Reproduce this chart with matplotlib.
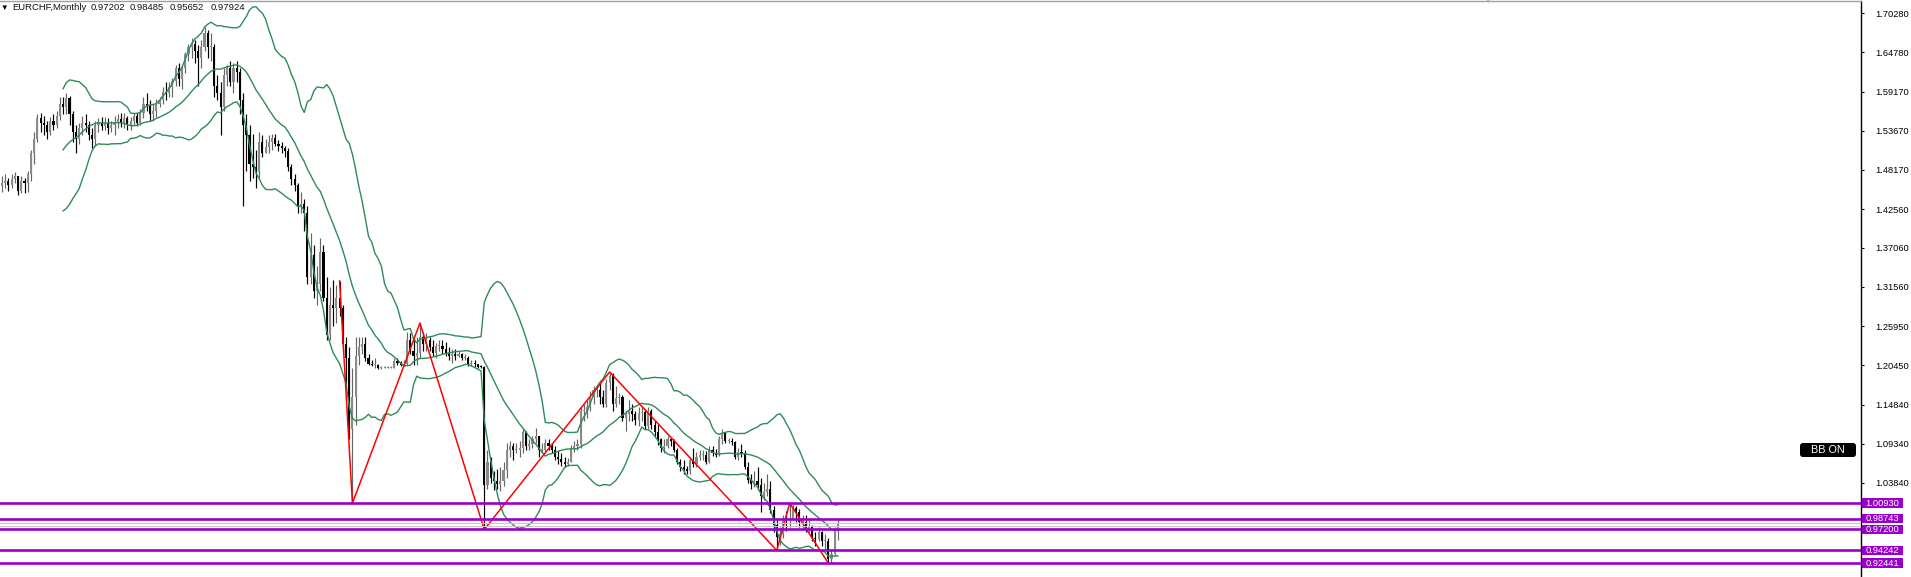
import numpy as np
import pandas as pd
import matplotlib
matplotlib.use('Agg')
import matplotlib.pyplot as plt
from matplotlib.patches import Rectangle, FancyBboxPatch

plt.rcParams['font.family'] = ['Liberation Sans', 'DejaVu Sans']

# EURCHF monthly candles, Jul 2002 .. last bar
first_open = 1.458
closes = [
    1.462, 1.466, 1.460, 1.468, 1.472, 1.452, 1.465, 1.462, 1.475, 1.505,
    1.525, 1.555, 1.548, 1.545, 1.535, 1.550, 1.545, 1.558, 1.575, 1.570,
    1.583, 1.560, 1.535, 1.525, 1.540, 1.548, 1.545, 1.530, 1.525, 1.545,
    1.548, 1.543, 1.548, 1.540, 1.545, 1.548, 1.553, 1.548, 1.555, 1.545,
    1.550, 1.557, 1.548, 1.562, 1.575, 1.572, 1.560, 1.565, 1.575, 1.580,
    1.592, 1.590, 1.598, 1.607, 1.625, 1.610, 1.625, 1.645, 1.655, 1.660,
    1.650, 1.640, 1.655, 1.675, 1.655, 1.655, 1.600, 1.590, 1.570, 1.615,
    1.625, 1.605, 1.625, 1.620, 1.580, 1.545, 1.530, 1.490, 1.486, 1.478,
    1.520, 1.505, 1.513, 1.520, 1.527, 1.518, 1.515, 1.512, 1.508, 1.485,
    1.468, 1.460, 1.428, 1.433, 1.420, 1.330, 1.360, 1.310, 1.320, 1.365,
    1.300, 1.248, 1.290, 1.285, 1.300, 1.285, 1.235, 1.215, 1.115, 1.160,
    1.217, 1.230, 1.235, 1.215, 1.207, 1.205, 1.205, 1.201, 1.201, 1.201,
    1.201, 1.201, 1.210, 1.208, 1.205, 1.207, 1.240, 1.225, 1.217, 1.222,
    1.245, 1.235, 1.240, 1.230, 1.222, 1.232, 1.232, 1.228, 1.222, 1.217,
    1.220, 1.218, 1.220, 1.215, 1.215, 1.206, 1.207, 1.206, 1.2025, 1.2024,
    1.035, 1.068, 1.045, 1.040, 1.036, 1.040, 1.056, 1.085, 1.090, 1.085,
    1.085, 1.088, 1.110, 1.090, 1.093, 1.100, 1.105, 1.085, 1.085, 1.095,
    1.090, 1.085, 1.075, 1.072, 1.068, 1.065, 1.068, 1.088, 1.090, 1.093,
    1.140, 1.140, 1.145, 1.160, 1.170, 1.170, 1.160, 1.150, 1.180, 1.190,
    1.150, 1.158, 1.160, 1.130, 1.135, 1.140, 1.135, 1.127, 1.137, 1.138,
    1.118, 1.140, 1.120, 1.110, 1.100, 1.088, 1.090, 1.100, 1.097, 1.085,
    1.068, 1.060, 1.058, 1.055, 1.070, 1.065, 1.075, 1.078, 1.078, 1.068,
    1.085, 1.080, 1.078, 1.100, 1.108, 1.097, 1.098, 1.096, 1.075, 1.082,
    1.080, 1.060, 1.042, 1.036, 1.040, 1.035, 1.020, 1.025, 1.030, 1.000,
    0.978, 0.962, 0.965, 0.987, 0.985, 0.987, 1.003, 0.997, 0.983, 0.983,
    0.972, 0.977, 0.960, 0.958, 0.968, 0.955, 0.955, 0.930, 0.937, 0.972,
    0.97924,
]
highs = [
    1.472, 1.475, 1.470, 1.475, 1.478, 1.473, 1.472, 1.470, 1.480, 1.510,
    1.535, 1.560, 1.562, 1.558, 1.550, 1.556, 1.560, 1.565, 1.585, 1.584,
    1.590, 1.586, 1.565, 1.545, 1.548, 1.558, 1.560, 1.550, 1.540, 1.550,
    1.555, 1.556, 1.556, 1.555, 1.550, 1.557, 1.560, 1.562, 1.562, 1.558,
    1.556, 1.562, 1.562, 1.568, 1.585, 1.590, 1.580, 1.575, 1.582, 1.585,
    1.598, 1.605, 1.605, 1.612, 1.630, 1.632, 1.630, 1.648, 1.660, 1.668,
    1.665, 1.658, 1.665, 1.683, 1.680, 1.675, 1.660, 1.615, 1.605, 1.625,
    1.630, 1.635, 1.633, 1.635, 1.625, 1.590, 1.560, 1.545, 1.532, 1.510,
    1.535, 1.530, 1.525, 1.530, 1.532, 1.532, 1.523, 1.520, 1.515, 1.512,
    1.490, 1.475, 1.462, 1.450, 1.440, 1.430, 1.392, 1.375, 1.345, 1.385,
    1.375, 1.330, 1.315, 1.325, 1.318, 1.324, 1.290, 1.245, 1.230, 1.200,
    1.245, 1.245, 1.245, 1.245, 1.220, 1.212, 1.215, 1.207, 1.203, 1.203,
    1.203, 1.203, 1.215, 1.215, 1.210, 1.212, 1.252, 1.250, 1.242, 1.245,
    1.2644, 1.252, 1.250, 1.245, 1.240, 1.236, 1.240, 1.240, 1.238, 1.230,
    1.227, 1.227, 1.225, 1.222, 1.220, 1.218, 1.212, 1.212, 1.207, 1.205,
    1.203, 1.085, 1.075, 1.055, 1.058, 1.060, 1.068, 1.095, 1.098, 1.095,
    1.095, 1.098, 1.115, 1.112, 1.100, 1.105, 1.116, 1.105, 1.095, 1.100,
    1.100, 1.095, 1.090, 1.085, 1.080, 1.075, 1.073, 1.092, 1.098, 1.100,
    1.145, 1.150, 1.155, 1.168, 1.175, 1.175, 1.180, 1.170, 1.185, 1.195,
    1.194, 1.175, 1.165, 1.162, 1.140, 1.155, 1.150, 1.140, 1.145, 1.145,
    1.142, 1.145, 1.143, 1.125, 1.122, 1.102, 1.100, 1.105, 1.102, 1.100,
    1.088, 1.072, 1.070, 1.062, 1.075, 1.088, 1.082, 1.085, 1.085, 1.083,
    1.090, 1.090, 1.086, 1.105, 1.115, 1.110, 1.102, 1.102, 1.097, 1.088,
    1.093, 1.085, 1.068, 1.050, 1.055, 1.060, 1.045, 1.038, 1.050, 1.040,
    1.005, 0.985, 0.975, 0.992, 0.998, 1.0093, 1.008, 1.005, 1.001, 0.993,
    0.992, 0.985, 0.978, 0.968, 0.975, 0.970, 0.965, 0.960, 0.945, 0.976,
    0.98485,
]
lows = [
    1.450, 1.455, 1.452, 1.455, 1.462, 1.445, 1.448, 1.448, 1.450, 1.465,
    1.490, 1.520, 1.535, 1.530, 1.525, 1.530, 1.538, 1.540, 1.552, 1.560,
    1.560, 1.545, 1.520, 1.505, 1.518, 1.530, 1.535, 1.523, 1.512, 1.515,
    1.535, 1.538, 1.538, 1.532, 1.535, 1.530, 1.540, 1.542, 1.540, 1.538,
    1.538, 1.545, 1.543, 1.545, 1.555, 1.565, 1.550, 1.550, 1.556, 1.570,
    1.575, 1.580, 1.585, 1.585, 1.600, 1.600, 1.596, 1.618, 1.635, 1.640,
    1.633, 1.600, 1.625, 1.650, 1.640, 1.635, 1.585, 1.580, 1.530, 1.565,
    1.600, 1.600, 1.590, 1.605, 1.560, 1.430, 1.480, 1.465, 1.470, 1.455,
    1.470, 1.500, 1.505, 1.505, 1.510, 1.515, 1.508, 1.505, 1.500, 1.480,
    1.460, 1.452, 1.420, 1.420, 1.395, 1.320, 1.320, 1.300, 1.290, 1.310,
    1.295, 1.240, 1.240, 1.260, 1.265, 1.275, 1.225, 1.175, 1.100, 1.0093,
    1.120, 1.205, 1.220, 1.210, 1.205, 1.204, 1.200, 1.199, 1.199, 1.200,
    1.200, 1.200, 1.200, 1.205, 1.203, 1.203, 1.205, 1.220, 1.205, 1.205,
    1.215, 1.225, 1.225, 1.225, 1.218, 1.215, 1.225, 1.220, 1.218, 1.212,
    1.208, 1.212, 1.216, 1.212, 1.212, 1.204, 1.203, 1.202, 1.2008, 1.2008,
    0.972, 1.030, 1.038, 1.028, 1.030, 1.027, 1.033, 1.045, 1.075, 1.070,
    1.080, 1.074, 1.080, 1.085, 1.085, 1.088, 1.095, 1.075, 1.080, 1.082,
    1.085, 1.080, 1.070, 1.065, 1.062, 1.060, 1.062, 1.068, 1.082, 1.085,
    1.088, 1.125, 1.130, 1.140, 1.150, 1.160, 1.150, 1.145, 1.145, 1.170,
    1.140, 1.145, 1.150, 1.125, 1.112, 1.125, 1.125, 1.120, 1.118, 1.125,
    1.115, 1.115, 1.115, 1.105, 1.092, 1.082, 1.080, 1.087, 1.090, 1.082,
    1.065, 1.055, 1.050, 1.050, 1.050, 1.060, 1.060, 1.070, 1.070, 1.065,
    1.066, 1.076, 1.074, 1.076, 1.093, 1.095, 1.094, 1.092, 1.072, 1.070,
    1.075, 1.058, 1.038, 1.030, 1.032, 1.028, 0.997, 1.014, 1.020, 0.995,
    0.968, 0.9424, 0.950, 0.960, 0.970, 0.975, 0.985, 0.983, 0.975, 0.972,
    0.968, 0.968, 0.955, 0.948, 0.955, 0.948, 0.945, 0.9244, 0.925, 0.935,
    0.95652,
]

# zigzag turning points (bar index, price)
zz_bars = [105, 109, 130, 150, 189, 241, 245, 257]
zz_prices = [1.3240, 1.0093, 1.2644, 0.9720, 1.1950, 0.94242, 1.0093, 0.92441]

# horizontal levels
levels = [1.00930, 0.98743, 0.97200, 0.94242, 0.92441]
bid_ask = [0.98050, 0.97720]

price_ticks = [1.70280, 1.64780, 1.59170, 1.53670, 1.48170, 1.42560, 1.37060,
               1.31560, 1.25950, 1.20450, 1.14840, 1.09340, 1.03840]

symbol = 'EURCHF,Monthly'
ohlc_text = ['0.97202', '0.98485', '0.95652', '0.97924']

W, H = 1911, 577
fig = plt.figure(figsize=(W / 100, H / 100), dpi=100)
ax = fig.add_axes([0, 0, 1861 / W, 576 / H])

c = np.array(closes)
hi = np.array(highs)
lo = np.array(lows)
o = np.r_[first_open, c[:-1]]
o[-1] = float(ohlc_text[0])
idx = np.arange(len(c))

bull = c >= o
body_col = np.where(bull, '#8a8a8a', '#000000')
wick_col = np.where(bull, '#666666', '#000000')
ax.vlines(idx, np.minimum(lo, np.minimum(o, c)), np.maximum(hi, np.maximum(o, c)),
          colors=wick_col, lw=0.85, zorder=2)
body_h = np.maximum(np.abs(c - o), 0.0016)
ax.bar(idx, body_h, bottom=np.minimum(o, c), width=0.66, color=body_col,
       linewidth=0, zorder=3)

# Bollinger bands 20, 2
s = pd.Series(c)
mid = s.rolling(20).mean()
sd = s.rolling(20).std(ddof=0)
green = '#2e8b57'
for band in (mid, mid + 2 * sd, mid - 2 * sd):
    ax.plot(idx, band, color=green, lw=1.0, zorder=4)

ax.plot(zz_bars, zz_prices, color='#ff0000', lw=1.1, zorder=5)

for p in bid_ask:
    ax.axhline(p, color='#c8c8c8', lw=0.8, zorder=5)
purple = '#9900cc'
for p in levels:
    ax.axhline(p, color=purple, lw=1.9, zorder=6)

ax.set_xlim(-2 / 3.215, (1861 - 2) / 3.215)
ax.set_ylim(0.90472, 1.72036)

ax.yaxis.tick_right()
ax.set_yticks(price_ticks)
ax.set_yticklabels(['%.5f' % t for t in price_ticks])
ax.tick_params(axis='y', length=2, width=0.8, pad=8, labelsize=6.7,
               colors='#000000', direction='out')
ax.set_xticks([])
for side in ('left', 'bottom'):
    ax.spines[side].set_visible(False)
ax.spines['right'].set_color('#000000')
ax.spines['right'].set_linewidth(1.0)
ax.spines['top'].set_color('#a0a0a0')
ax.spines['top'].set_linewidth(1.0)

# level tags on the price scale
yt = ax.get_yaxis_transform()
tag_h = 9.5 / 706.2
for p in levels:
    ax.add_patch(Rectangle((1862 / 1861, p - tag_h / 2), 41 / 1861, tag_h,
                           transform=yt, facecolor=purple, edgecolor='none',
                           clip_on=False, zorder=7))
    ax.text(1882.5 / 1861, p, '%.5f' % p, transform=yt, color='white',
            fontsize=6.7, ha='center', va='center', clip_on=False, zorder=8)

# BB ON badge
def fx(x):
    return x / W


def fy(y):
    return 1 - y / H


badge = FancyBboxPatch((fx(1800), fy(457)), fx(1856) - fx(1800), fy(443) - fy(457),
                       boxstyle='round,pad=0,rounding_size=0.0015',
                       mutation_aspect=W / H, transform=fig.transFigure,
                       facecolor='black', edgecolor='none')
fig.add_artist(badge)
fig.text(fx(1828), fy(450), 'BB ON', color='white', fontsize=7.8,
         ha='center', va='center')

# title line
fig.text(fx(0.5), fy(8), '\u25BC', fontsize=5.5, ha='left', va='center', color='#000000')
fig.text(fx(12), fy(8), symbol, fontsize=6.8, ha='left', va='center', color='#111111')
for xs, t in zip([90.7, 129.3, 170.0, 210.7], ohlc_text):
    fig.text(fx(xs), fy(8), t, fontsize=6.8, ha='left', va='center', color='#111111')

# small scroll marker at the top edge
fig.text(fx(1487), fy(1), '\u25BC', fontsize=6, ha='center', va='center',
         color='#b4b4b4')

fig.savefig('out.png', dpi=100, facecolor='white')
